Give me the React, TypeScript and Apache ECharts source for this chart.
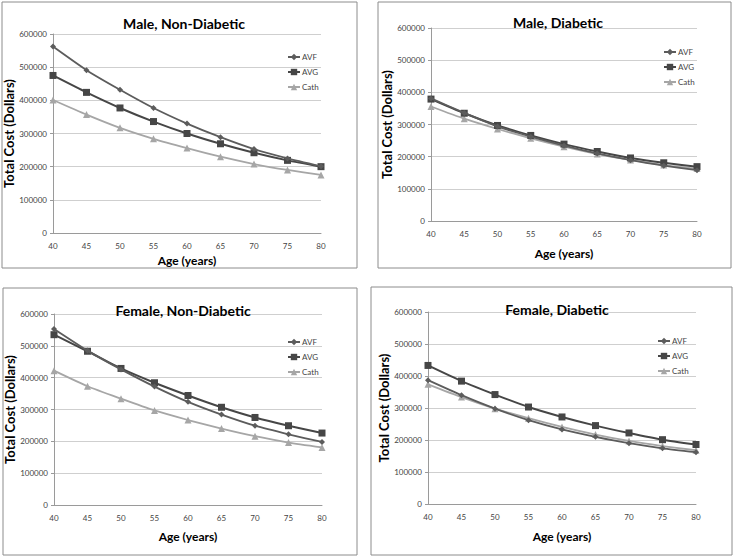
import React, { useEffect, useRef } from "react";
import * as echarts from "echarts";

const ages = ["40", "45", "50", "55", "60", "65", "70", "75", "80"];
const seriesNames = ["AVF", "AVG", "Cath"];
const panelTitles = ["Male, Non-Diabetic", "Male, Diabetic", "Female, Non-Diabetic", "Female, Diabetic"];
const yTicks = [0, 100000, 200000, 300000, 400000, 500000, 600000];

const maleNonDiabeticAVF = [562000, 491000, 432000, 377000, 330000, 289000, 253000, 225000, 201000];
const maleNonDiabeticAVG = [475000, 424000, 377000, 336000, 300000, 269000, 242000, 219000, 200000];
const maleNonDiabeticCath = [401000, 357000, 317000, 284000, 256000, 230000, 208000, 190000, 175000];

const maleDiabeticAVF = [381000, 336000, 294000, 262000, 234000, 210000, 189000, 172000, 158000];
const maleDiabeticAVG = [379000, 335000, 297000, 266000, 239000, 216000, 196000, 181000, 169000];
const maleDiabeticCath = [356000, 318000, 286000, 257000, 231000, 208000, 190000, 174000, 163000];

const femaleNonDiabeticAVF = [553000, 485000, 426000, 372000, 324000, 284000, 249000, 222000, 198000];
const femaleNonDiabeticAVG = [535000, 483000, 429000, 384000, 344000, 307000, 275000, 249000, 226000];
const femaleNonDiabeticCath = [422000, 373000, 334000, 297000, 267000, 240000, 216000, 196000, 181000];

const femaleDiabeticAVF = [387000, 340000, 298000, 262000, 233000, 210000, 190000, 174000, 162000];
const femaleDiabeticAVG = [433000, 384000, 342000, 303000, 272000, 245000, 222000, 201000, 186000];
const femaleDiabeticCath = [374000, 334000, 298000, 268000, 241000, 217000, 197000, 181000, 168000];

const panelData = [
  [maleNonDiabeticAVF, maleNonDiabeticAVG, maleNonDiabeticCath],
  [maleDiabeticAVF, maleDiabeticAVG, maleDiabeticCath],
  [femaleNonDiabeticAVF, femaleNonDiabeticAVG, femaleNonDiabeticCath],
  [femaleDiabeticAVF, femaleDiabeticAVG, femaleDiabeticCath],
];

const FONT = "Lato, 'Noto Sans', sans-serif";

// layout per panel
const grids = [
  { left: 53, top: 34, width: 268, height: 199 },
  { left: 431, top: 28, width: 266, height: 193 },
  { left: 54, top: 314, width: 268, height: 191 },
  { left: 428, top: 312, width: 268, height: 192 },
];
const boxes = [
  { x: 2, y: 2, width: 355, height: 266 },
  { x: 378, y: 2, width: 353, height: 266 },
  { x: 3, y: 288, width: 354, height: 267 },
  { x: 371, y: 287, width: 361, height: 268 },
];
const titlePos = [
  { x: 179, y: 18 },
  { x: 553, y: 17 },
  { x: 178, y: 305 },
  { x: 552, y: 304 },
];
const yNameGaps = [34, 36, 35, 37];
const xNameGaps = [21, 26, 25, 26];
const legendPos = [
  { left: 282, top: 48 },
  { left: 658, top: 43 },
  { left: 282, top: 333 },
  { left: 652, top: 332 },
];

const seriesStyle = [
  { color: "#5c5c5c", symbol: "diamond", size: 6, width: 1.8 },
  { color: "#464646", symbol: "rect", size: 7, width: 2 },
  { color: "#a6a6a6", symbol: "triangle", size: 7, width: 1.8 },
];

export default function App() {
  const ref = useRef<HTMLDivElement>(null);
  useEffect(() => {
    if (!ref.current) return;
    const chart = echarts.init(ref.current, undefined, { renderer: "svg" });
    const series: any[] = [];
    panelData.forEach((arrs, p) => {
      arrs.forEach((vals, s) => {
        const st = seriesStyle[s];
        series.push({
          type: "line",
          name: seriesNames[s],
          xAxisIndex: p,
          yAxisIndex: p,
          data: vals,
          smooth: 0.2,
          symbol: st.symbol,
          symbolSize: st.size,
          lineStyle: { color: st.color, width: st.width },
          itemStyle: { color: st.color },
          z: s === 0 ? 4 : s === 1 ? 3 : 2,
        });
      });
    });
    chart.setOption({
      animation: false,
      backgroundColor: "#ffffff",
      title: panelTitles.map((t, i) => ({
        text: t,
        left: titlePos[i].x,
        top: titlePos[i].y,
        textAlign: "center",
        textVerticalAlign: "middle",
        textStyle: { fontFamily: FONT, fontWeight: "bold", fontSize: 14, color: "#000" },
      })),
      legend: legendPos.map((lp) => ({
        orient: "vertical",
        left: lp.left,
        top: lp.top,
        itemWidth: 12,
        itemHeight: 8,
        itemGap: 7,
        data: seriesNames,
        textStyle: { fontFamily: FONT, fontSize: 8, color: "#444", padding: [0, 0, 0, -3] },
      })),
      grid: grids.map((g) => ({ ...g, containLabel: false })),
      xAxis: grids.map((_, i) => ({
        type: "category",
        gridIndex: i,
        data: ages,
        boundaryGap: false,
        name: "Age (years)",
        nameLocation: "middle",
        nameGap: xNameGaps[i],
        nameTextStyle: { fontFamily: FONT, fontWeight: "bold", fontSize: 12, color: "#000", verticalAlign: "top" },
        axisLine: { lineStyle: { color: "#9a9a9a" } },
        axisTick: { show: false },
        axisLabel: { fontFamily: FONT, fontSize: 8, color: "#444", margin: 9 },
        splitLine: { show: false },
      })),
      yAxis: grids.map((_, i) => ({
        type: "value",
        gridIndex: i,
        min: yTicks[0],
        max: yTicks[yTicks.length - 1],
        interval: 100000,
        name: "Total Cost (Dollars)",
        nameLocation: "middle",
        nameGap: yNameGaps[i],
        nameTextStyle: { fontFamily: FONT, fontWeight: "bold", fontSize: 13, color: "#000" },
        axisLine: { show: true, lineStyle: { color: "#9a9a9a" } },
        axisTick: { show: true, length: 3, lineStyle: { color: "#9a9a9a" } },
        axisLabel: {
          fontFamily: FONT,
          fontSize: 8,
          color: "#444",
          margin: 6,
          formatter: (v: number) => String(v),
        },
        splitLine: { show: true, lineStyle: { color: "#cfcfcf", width: 1 } },
      })),
      graphic: boxes.map((b) => ({
        type: "rect",
        shape: { x: b.x, y: b.y, width: b.width, height: b.height },
        style: { fill: "none", stroke: "#8c8c8c", lineWidth: 1 },
        silent: true,
        z: -1,
      })),
      series,
    });
    return () => chart.dispose();
  }, []);
  return (
    <div
      ref={ref}
      style={{ position: "fixed", left: 0, top: 0, width: 733, height: 557, background: "#fff" }}
    />
  );
}
